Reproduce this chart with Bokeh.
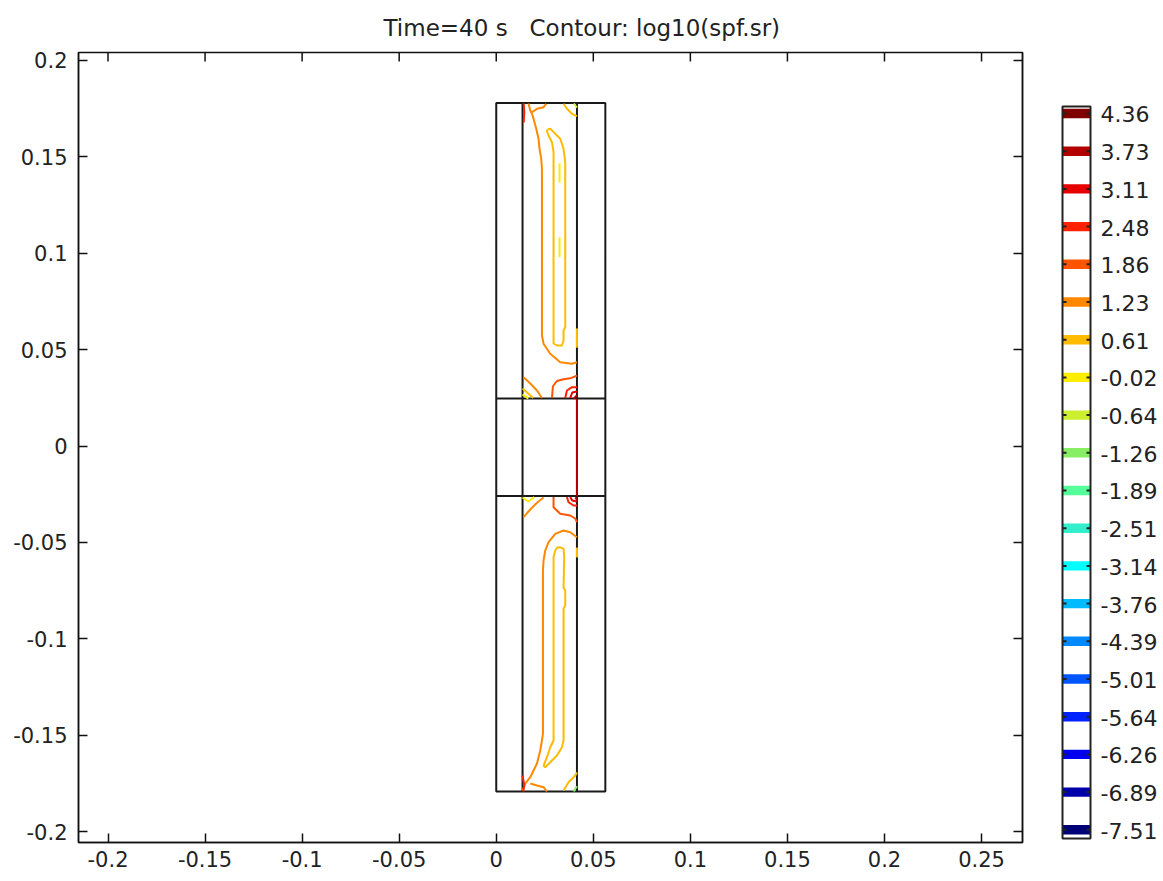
from bokeh.plotting import figure
from bokeh.layouts import row
from bokeh.models import Range1d, LinearAxis, FixedTicker, CustomJSTickFormatter, LabelSet, ColumnDataSource
from bokeh.embed import file_html
from bokeh.resources import INLINE
from bokeh.core.properties import value

FONT = "DejaVu Sans"
TXT = "#222222"

title_text = "Time=40 s\u00a0\u00a0 Contour: log10(spf.sr)"

x_ticks = [-0.2, -0.15, -0.1, -0.05, 0.0, 0.05, 0.1, 0.15, 0.2, 0.25]
x_tick_labels = ["-0.2", "-0.15", "-0.1", "-0.05", "0", "0.05", "0.1", "0.15", "0.2", "0.25"]
y_ticks = [-0.2, -0.15, -0.1, -0.05, 0.0, 0.05, 0.1, 0.15, 0.2]
y_tick_labels = ["-0.2", "-0.15", "-0.1", "-0.05", "0", "0.05", "0.1", "0.15", "0.2"]

level_labels = ["4.36", "3.73", "3.11", "2.48", "1.86", "1.23", "0.61", "-0.02", "-0.64", "-1.26",
                "-1.89", "-2.51", "-3.14", "-3.76", "-4.39", "-5.01", "-5.64", "-6.26", "-6.89", "-7.51"]
level_colors = ["#800000", "#b30000", "#e60000", "#ff2200", "#ff5500", "#ff8800", "#ffbb00", "#ffee00",
                "#ccf030", "#88ee66", "#55ff99", "#33eecc", "#00ffff", "#00bbff", "#0088ff", "#0055ff",
                "#0022ff", "#0000ee", "#0000aa", "#000077"]
color_of = dict(zip(level_labels, level_colors))

# geometry (m)
outer_x = [0.0, 0.0562]
inner_x = [0.01355, 0.04158]
outer_y = [-0.1792, 0.178]
gap_y = [-0.026, 0.0246]

# contour polylines (level label, x list, y list)
upper_outer_x = [0.01664, 0.01752, 0.01839, 0.01922, 0.02061, 0.02179, 0.02231, 0.02318, 0.02354, 0.02354,
                 0.02437, 0.02782, 0.03297, 0.03900, 0.04158]
upper_outer_y = [0.17769, 0.17406, 0.17235, 0.16975, 0.16456, 0.15938, 0.15419, 0.14900, 0.14381, 0.05733,
                 0.05302, 0.04783, 0.04348, 0.04265, 0.04348]
upper_branch_x = [0.01839, 0.02097, 0.02437, 0.02576]
upper_branch_y = [0.17317, 0.17494, 0.17577, 0.17753]
upper_inner_x = [0.02643, 0.02782, 0.03040, 0.03297, 0.03467, 0.03555, 0.03555, 0.03467, 0.03467, 0.03385,
                 0.03127, 0.02952, 0.02952, 0.02870, 0.02695, 0.02613, 0.02643]
upper_inner_y = [0.16419, 0.16456, 0.16197, 0.15938, 0.15419, 0.14723, 0.06164, 0.05992, 0.05474, 0.05214,
                 0.05214, 0.05318, 0.15243, 0.15762, 0.16109, 0.16316, 0.16419]
dash1_x = [0.03261, 0.03261]
dash1_y = [0.14656, 0.13671]
dash2_x = [0.03261, 0.03261]
dash2_y = [0.10833, 0.09795]

lower_outer_x = [0.04158, 0.03812, 0.03467, 0.03040, 0.02695, 0.02524, 0.02437, 0.02406, 0.02406, 0.02354,
                 0.02267, 0.02097, 0.01922, 0.01752, 0.01494, 0.01355]
lower_outer_y = [-0.04732, -0.04472, -0.04384, -0.04555, -0.04991, -0.05422, -0.05940, -0.06459, -0.14916,
                 -0.15279, -0.15798, -0.16472, -0.16835, -0.17183, -0.17510, -0.17873]
lower_branch_x = [0.01752, 0.02097, 0.02437, 0.02612]
lower_branch_y = [-0.17510, -0.17613, -0.17701, -0.17924]
lower_inner_x = [0.03297, 0.03467, 0.03503, 0.03467, 0.03555, 0.03555, 0.03467, 0.03467, 0.03385, 0.03127,
                 0.02782, 0.02524, 0.02437, 0.02612, 0.02782, 0.02952, 0.02952, 0.03040, 0.03143, 0.03297]
lower_inner_y = [-0.05250, -0.05333, -0.05769, -0.07341, -0.07497, -0.08275, -0.08431, -0.15279, -0.15627,
                 -0.16057, -0.16405, -0.16664, -0.16576, -0.16145, -0.15627, -0.15279, -0.05769, -0.05422,
                 -0.05266, -0.05250]

contours = [
    ("1.23", upper_outer_x, upper_outer_y),
    ("1.23", upper_branch_x, upper_branch_y),
    ("0.61", upper_inner_x, upper_inner_y),
    ("-0.02", dash1_x, dash1_y),
    ("-0.02", dash2_x, dash2_y),
    ("1.23", lower_outer_x, lower_outer_y),
    ("1.23", lower_branch_x, lower_branch_y),
    ("0.61", lower_inner_x, lower_inner_y),
    # corners near the gap, upper part
    ("1.23", [0.01407, 0.01752, 0.02097, 0.02354], [0.03569, 0.03243, 0.02879, 0.02490]),
    ("0.61", [0.01355, 0.01649, 0.01906], [0.02983, 0.02724, 0.02490]),
    ("-0.02", [0.01355, 0.01520, 0.01650], [0.02680, 0.02560, 0.02460]),
    ("1.86", [0.02870, 0.02920, 0.03127, 0.03467, 0.03812, 0.04070, 0.04158],
     [0.02490, 0.03100, 0.03372, 0.03459, 0.03510, 0.03616, 0.03650]),
    ("2.48", [0.03555, 0.03642, 0.03900, 0.04158], [0.02490, 0.02879, 0.03051, 0.03051]),
    ("3.11", [0.03812, 0.03916, 0.04158], [0.02490, 0.02776, 0.02827]),
    ("3.73", [0.04000, 0.04158], [0.02460, 0.02640]),
    # corners near the gap, lower part
    ("-0.02", [0.01355, 0.01649, 0.01958], [-0.02672, -0.02880, -0.02646]),
    ("1.23", [0.02437, 0.02112, 0.01752, 0.01407], [-0.02672, -0.02931, -0.03294, -0.03694]),
    ("1.86", [0.02952, 0.02952, 0.03297, 0.03812, 0.04070, 0.04158],
     [-0.02646, -0.03175, -0.03518, -0.03606, -0.03761, -0.03953]),
    ("2.48", [0.03642, 0.03725, 0.03983, 0.04158], [-0.02646, -0.02916, -0.03087, -0.03087]),
    ("3.11", [0.03812, 0.03916, 0.04158], [-0.02646, -0.02827, -0.02879]),
    ("3.73", [0.04070, 0.04158], [-0.02672, -0.02776]),
    # gap wall (shaft surface)
    ("3.73", [0.04158, 0.04158], [0.0246, -0.026]),
    # wall segments
    ("0.61", [0.04158, 0.04158], [0.0610, 0.0510]),
    ("0.61", [0.04158, 0.04158], [-0.0527, -0.0578]),
    # top corners
    ("2.48", [0.01417, 0.01443, 0.01417], [0.17769, 0.17302, 0.16783]),
    ("0.61", [0.03467, 0.03642, 0.03900, 0.04158], [0.17753, 0.17494, 0.17235, 0.17110]),
    ("-0.64", [0.04000, 0.04158], [0.17769, 0.17560]),
    # bottom corners
    ("2.48", [0.01355, 0.01443, 0.01391], [-0.17094, -0.17613, -0.17925]),
    ("0.61", [0.03467, 0.03725, 0.04070, 0.04158], [-0.17873, -0.17443, -0.17094, -0.16939]),
    ("-1.26", [0.03980, 0.04158], [-0.17920, -0.17650]),
]

# ---------------- main plot ----------------
X0, X1 = -0.2152, 0.2711
Y0, Y1 = -0.2057, 0.20415
p = figure(width=1040, height=881, output_backend="svg", toolbar_location=None,
           x_range=Range1d(X0, X1), y_range=Range1d(Y0, Y1),
           min_border_left=78, min_border_right=18, min_border_top=52, min_border_bottom=39)
p.grid.visible = False
p.background_fill_color = "white"
p.outline_line_color = "#111111"
p.outline_line_width = 1.5

p.title.text = title_text
p.title.align = "left"
p.title.offset = 305
p.title.standoff = 24
p.title.text_font = FONT
p.title.text_font_size = "23px"
p.title.text_font_style = "normal"
p.title.text_color = TXT

for ax, ticks, labels in ((p.xaxis[0], x_ticks, x_tick_labels), (p.yaxis[0], y_ticks, y_tick_labels)):
    ax.ticker = FixedTicker(ticks=ticks)
    ax.major_label_overrides = {t: l for t, l in zip(ticks, labels)}
    ax.major_tick_in = 9
    ax.major_tick_out = 0
    ax.minor_tick_line_color = None
    ax.axis_line_width = 1.5
    ax.axis_line_color = "#111111"
    ax.major_tick_line_width = 1.5
    ax.major_tick_line_color = "#111111"
    ax.major_label_text_font = FONT
    ax.major_label_text_font_size = "21px"
    ax.major_label_text_color = TXT
p.xaxis.major_label_standoff = 8
p.yaxis.major_label_standoff = 11

blank = CustomJSTickFormatter(code="return ''")
right_ax = LinearAxis(ticker=FixedTicker(ticks=y_ticks), formatter=blank)
right_ax.major_tick_in = 9
right_ax.major_tick_out = 0
right_ax.minor_tick_line_color = None
right_ax.axis_line_width = 1.5
right_ax.axis_line_color = "#111111"
right_ax.major_tick_line_width = 1.5
right_ax.major_tick_line_color = "#111111"
right_ax.major_label_standoff = 0
p.add_layout(right_ax, "right")

# inward ticks along the top edge of the frame (9 px long)
tick_len = 9 * (Y1 - Y0) / 790.0
p.segment(x0=x_ticks, y0=[Y1] * len(x_ticks), x1=x_ticks, y1=[Y1 - tick_len] * len(x_ticks),
          line_color="#111111", line_width=1.5)

# geometry lines
p.quad(left=[outer_x[0]], right=[outer_x[1]], bottom=[outer_y[0]], top=[outer_y[1]],
       fill_color=None, line_color="#1a1a1a", line_width=2)
p.segment(x0=inner_x, y0=[outer_y[0]] * 2, x1=inner_x, y1=[outer_y[1]] * 2,
          line_color="#1a1a1a", line_width=2)
p.segment(x0=[outer_x[0]] * 2, y0=gap_y, x1=[outer_x[1]] * 2, y1=gap_y,
          line_color="#1a1a1a", line_width=2)

for lvl, xs, ys in contours:
    p.line(xs, ys, line_color=color_of[lvl], line_width=2)

# ---------------- colour legend ----------------
# the row layout aligns this frame with the main frame (page rows 52..842);
# level i sits at page row 113 + 37.7 * i
n = len(level_labels)
idx = list(range(n))
leg = figure(width=123, height=881, output_backend="svg", toolbar_location=None,
             x_range=Range1d(0, 123), y_range=Range1d(19.337, -1.618),
             min_border=0, x_axis_location=None, y_axis_location=None)
leg.grid.visible = False
leg.outline_line_color = None

leg.rect(x=[36] * n, y=idx, width=28, height=0.25, fill_color=level_colors, line_color=None)
leg.quad(left=[22], right=[50], top=[-0.186], bottom=[19.23], fill_color=None,
         line_color="#222222", line_width=2)
leg.segment(x0=[22] * n, y0=idx, x1=[26] * n, y1=idx, line_color="#222222", line_width=2)
leg.segment(x0=[46] * n, y0=idx, x1=[50] * n, y1=idx, line_color="#222222", line_width=2)
label_src = ColumnDataSource(dict(x=[60] * n, y=idx, text=level_labels))
leg.add_layout(LabelSet(x="x", y="y", text="text", source=label_src, text_font=value(FONT),
                        text_font_size=value("22px"), text_baseline="middle", text_align="left",
                        text_color=TXT, y_offset=-1))

layout = row(p, leg)
open("out.html", "w").write(file_html(layout, INLINE))
